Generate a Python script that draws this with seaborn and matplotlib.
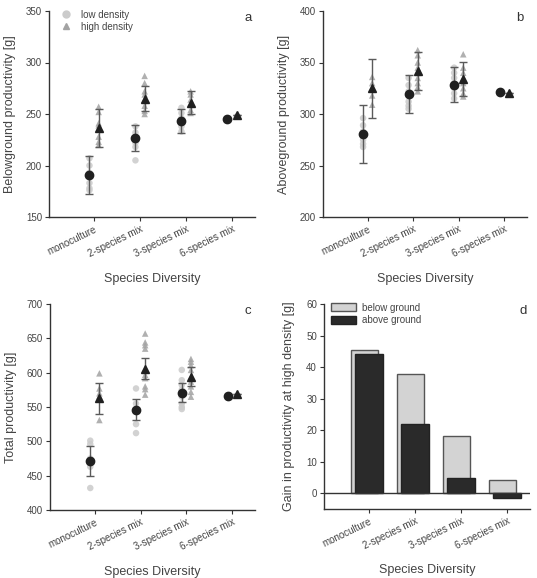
import numpy as np
import pandas as pd
import matplotlib
matplotlib.use('Agg')
import matplotlib.pyplot as plt
from matplotlib.lines import Line2D
from matplotlib.patches import Patch
import seaborn as sns

sns.set_style('ticks')
plt.rcParams['font.family'] = ['Liberation Sans', 'DejaVu Sans']

# %% Data
categories = ['monoculture', '2-species mix', '3-species mix', '6-species mix']

# (a) belowground productivity [g]
below_low_pts = [[207, 200, 193, 183, 178, 176], [238, 232, 227, 222, 218, 205],
                 [256, 251, 246, 243, 238, 233], [245]]
below_high_pts = [[257, 252, 241, 239, 228, 223, 220], [287, 280, 272, 269, 264, 258, 253, 250],
                  [272, 269, 264, 259, 254, 251], [249.5]]
below_low_mean = [191, 227, 243, 245]
below_low_err = [18.5, 12.5, 11.5, 0]
below_high_mean = [236.5, 265, 261, 249.5]
below_high_err = [18.5, 12.5, 11.3, 0]

# (b) aboveground productivity [g]
above_low_pts = [[296, 289, 283, 275, 271, 268], [335, 328, 322, 318, 312, 308, 305],
                 [345, 340, 335, 330, 325, 320, 315], [321]]
above_high_pts = [[336, 330, 324, 318, 309], [362, 357, 350, 345, 340, 335, 330, 326, 322],
                  [358, 345, 340, 335, 330, 325, 320, 317], [320]]
above_low_mean = [280.5, 319.5, 328.5, 321]
above_low_err = [28, 18.5, 17, 0]
above_high_mean = [325, 341.5, 334, 320]
above_high_err = [28.5, 18.5, 16.5, 0]

# (c) total productivity [g]
total_low_pts = [[501, 496, 475, 468, 463, 432], [577, 555, 545, 525, 512],
                 [604, 589, 582, 575, 565, 555, 550, 547], [566]]
total_high_pts = [[599, 577, 570, 566, 531], [657, 644, 640, 635, 605, 597, 592, 580, 576, 568],
                  [620, 616, 611, 604, 594, 587, 580, 572, 565], [569]]
total_low_mean = [471, 546, 571, 566]
total_low_err = [22, 15.5, 14, 0]
total_high_mean = [562.5, 606, 594, 569]
total_high_err = [22, 15.3, 14, 0]

# (d) gain at high density [g]
gain_below = [45.3, 37.9, 18.2, 4.1]
gain_above = [44.1, 21.9, 4.9, -1.5]

# %% Styling
TXT = '#444444'
LOW_C, HIGH_C, MEAN_C, ERR_C = '#cbcbcb', '#a3a3a3', '#202020', '#5a5a5a'
OFF = {'low': -0.1, 'high': 0.1}
W, H = 537, 578


def px_axes(fig, left, top, width, height):
    return fig.add_axes([left / W, 1 - (top + height) / H, width / W, height / H])


def style_axes(ax, ylabel, letter):
    for s in ['top', 'right']:
        ax.spines[s].set_visible(False)
    for s in ['left', 'bottom']:
        ax.spines[s].set_color('#333333')
        ax.spines[s].set_linewidth(1.0)
    ax.set_xlim(-0.98, 3.5)
    ax.set_xticks(range(len(categories)))
    ax.set_xticklabels(categories, rotation=26, ha='right', rotation_mode='anchor')
    ax.tick_params(axis='both', labelsize=7, colors='#333333', labelcolor=TXT,
                   length=3, width=0.8, pad=2)
    ax.set_ylabel(ylabel, fontsize=9, color=TXT)
    ax.set_xlabel('Species Diversity', fontsize=9, color=TXT)
    ax.xaxis.set_label_coords(0.5, -0.27)
    ax.yaxis.set_label_coords(-0.16, 0.5)
    ax.text(0.965, 0.965, letter, transform=ax.transAxes, ha='center', va='center',
            fontsize=9.5, color='#333333')


def points_panel(ax, low_pts, high_pts, low_mean, low_err, high_mean, high_err):
    rows = []
    for i, (lo, hi) in enumerate(zip(low_pts, high_pts)):
        rows += [{'pos': i + OFF['low'], 'value': v, 'density': 'low'} for v in lo]
        rows += [{'pos': i + OFF['high'], 'value': v, 'density': 'high'} for v in hi]
    df = pd.DataFrame(rows)
    sns.scatterplot(data=df, x='pos', y='value', hue='density', style='density',
                    palette={'low': LOW_C, 'high': HIGH_C},
                    markers={'low': 'o', 'high': '^'}, s=22, alpha=0.85,
                    edgecolor='none', legend=False, ax=ax, zorder=2)
    x = np.arange(len(categories))
    ax.errorbar(x + OFF['low'], low_mean, yerr=low_err, fmt='none', ecolor=ERR_C,
                elinewidth=1.0, capsize=3, capthick=1.0, zorder=3)
    ax.errorbar(x + OFF['high'], high_mean, yerr=high_err, fmt='none', ecolor=ERR_C,
                elinewidth=1.0, capsize=3, capthick=1.0, zorder=3)
    ax.plot(x + OFF['low'], low_mean, 'o', color=MEAN_C, ms=6, ls='none', zorder=4)
    ax.plot(x + OFF['high'], high_mean, '^', color=MEAN_C, ms=5.5, ls='none', zorder=4)


fig = plt.figure(figsize=(W / 100, H / 100), dpi=100)

# (a)
ax_a = px_axes(fig, 49, 11, 206, 206)
points_panel(ax_a, below_low_pts, below_high_pts, below_low_mean, below_low_err,
             below_high_mean, below_high_err)
ax_a.set_ylim(150, 350)
ax_a.set_yticks(range(150, 351, 50))
style_axes(ax_a, 'Belowground productivity [g]', 'a')
ax_a.legend(handles=[Line2D([], [], marker='o', ls='none', color=LOW_C, ms=5),
                     Line2D([], [], marker='^', ls='none', color=HIGH_C, ms=5)],
            labels=['low density', 'high density'], loc='upper left',
            bbox_to_anchor=(0.0, 1.04), frameon=False, fontsize=7, labelcolor=TXT,
            handletextpad=0.6, borderaxespad=0.3, labelspacing=0.2)

# (b)
ax_b = px_axes(fig, 323, 11, 204, 206)
points_panel(ax_b, above_low_pts, above_high_pts, above_low_mean, above_low_err,
             above_high_mean, above_high_err)
ax_b.set_ylim(200, 400)
ax_b.set_yticks(range(200, 401, 50))
style_axes(ax_b, 'Aboveground productivity [g]', 'b')

# (c)
ax_c = px_axes(fig, 50, 304, 205, 206)
points_panel(ax_c, total_low_pts, total_high_pts, total_low_mean, total_low_err,
             total_high_mean, total_high_err)
ax_c.set_ylim(400, 700)
ax_c.set_yticks(range(400, 701, 50))
style_axes(ax_c, 'Total productivity [g]', 'c')

# (d)
ax_d = px_axes(fig, 324, 304, 206, 205)
pos = np.arange(len(categories))
sns.barplot(x=pos - 0.1, y=gain_below, native_scale=True, width=0.6,
            color='#d3d3d3', edgecolor='#555555', linewidth=1.0, ax=ax_d, zorder=2)
sns.barplot(x=pos, y=gain_above, native_scale=True, width=0.6,
            color='#2a2a2a', edgecolor='#222222', linewidth=1.0, ax=ax_d, zorder=3)
ax_d.axhline(0, color='#333333', lw=1.0, zorder=4)
ax_d.set_ylim(-5, 60)
ax_d.set_yticks(range(0, 61, 10))
style_axes(ax_d, 'Gain in productivity at high density [g]', 'd')
ax_d.yaxis.set_label_coords(-0.14, 0.5)
ax_d.legend(handles=[Patch(facecolor='#d3d3d3', edgecolor='#555555'),
                     Patch(facecolor='#2a2a2a', edgecolor='#222222')],
            labels=['below ground', 'above ground'], loc='upper left',
            bbox_to_anchor=(0.0, 1.04), frameon=False, fontsize=7, labelcolor=TXT,
            handlelength=2.6, handleheight=0.9, handletextpad=0.6,
            borderaxespad=0.3, labelspacing=0.25)

fig.savefig('out.png', dpi=100)
